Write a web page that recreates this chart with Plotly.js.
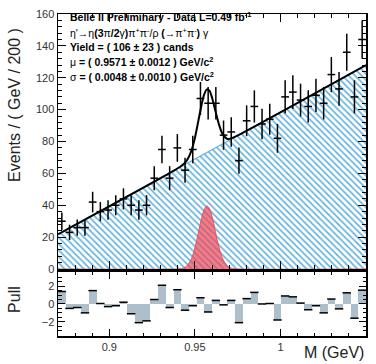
<!DOCTYPE html>
<html><head><meta charset="utf-8">
<script src="https://cdn.plot.ly/plotly-3.0.1.min.js"></script>
<style>html,body{margin:0;padding:0;background:#fff}</style>
</head><body><div id="plot" style="width:376px;height:364px"></div>
<script>
// Bin centres (40 bins, 0.87 - 1.05 GeV)
const binCenters = [0.87225,0.87675,0.88125,0.88575,0.89025,0.89475,0.89925,0.90375,0.90825,0.91275,
  0.91725,0.92175,0.92625,0.93075,0.93525,0.93975,0.94425,0.94875,0.95325,0.95775,
  0.96225,0.96675,0.97125,0.97575,0.98025,0.98475,0.98925,0.99375,0.99825,1.00275,
  1.00725,1.01175,1.01625,1.02075,1.02525,1.02975,1.03425,1.03875,1.04325,1.04775];
// Events per bin
const counts = [30,23,26,26,42,36,37,40,44,40,
  37,40,57,75,57,76,62,75,107,104,
  104,84,86,68,93,102,91,94,82,108,
  111,106,102,109,104,122,113,136,108,144];
const countErr = [5.48,4.80,5.10,5.10,6.48,6.00,6.08,6.32,6.63,6.32,
  6.08,6.32,7.55,8.66,7.55,8.72,7.87,8.66,10.34,10.20,
  10.20,9.17,9.27,8.25,9.64,10.10,9.54,9.70,9.06,10.39,
  10.54,10.30,10.10,10.44,10.20,11.05,10.63,11.66,10.39,12.00];
// Pulls
const pulls = [1.4,-0.5,-0.4,-1.0,1.5,0.05,-0.3,-0.2,0.2,-1.1,
  -2.1,-1.9,0.5,2.1,-0.4,1.6,-0.7,-0.2,0.7,-0.9,
  0.4,-0.1,0.4,-2.1,0.6,1.3,0.0,0.05,-1.8,0.9,
  0.8,0.1,-0.65,-0.2,-1.0,0.55,-0.55,1.25,-1.6,1.55];
// Background component (linear)
const bkgX = [0.87, 1.05];
const bkgY = [21.8, 127.9];
// Signal component
const sigX = [0.87,0.938,0.942,0.945,0.948,0.950,0.952,0.954,0.9555,0.957,0.9585,0.960,0.962,0.964,0.966,0.969,0.972,0.976,1.05];
const sigY = [0,0.02,0.28,1.66,6.5,13.2,22.6,32.2,37.5,39.6,37.9,33.1,23.5,14.1,7.1,1.8,0.32,0.02,0];
// Total fit
const totX = [0.87,0.938,0.942,0.945,0.948,0.950,0.952,0.954,0.9555,0.957,0.9585,0.960,0.962,0.964,0.966,0.969,0.972,0.976,1.05];
const totY = [21.8,61.9,64.6,67.7,74.3,82.2,92.8,103.6,109.7,112.7,111.9,107.6,99.2,91.0,85.1,81.6,82.3,84.3,127.9];

const binW = 0.0045;
const F = 'Liberation Sans, Arial, sans-serif';

const traces = [
  {type:'scatter', x:bkgX, y:bkgY, mode:'lines', fill:'tozeroy',
   line:{color:'#5fb0dc', width:1.2},
   fillcolor:'rgba(255,255,255,0)',
   fillpattern:{shape:'\\', fgcolor:'#5fb0dc', bgcolor:'#ffffff', size:4.5, solidity:0.35},
   xaxis:'x', yaxis:'y', hoverinfo:'skip'},
  {type:'scatter', x:sigX, y:sigY, mode:'lines', fill:'tozeroy', line:{color:'#e8505f', width:1, shape:'spline'},
   fillcolor:'rgba(238,70,85,0.7)', xaxis:'x', yaxis:'y', hoverinfo:'skip'},
  {type:'scatter', x:totX, y:totY, mode:'lines', line:{color:'#000', width:2, shape:'spline', smoothing:0.8},
   xaxis:'x', yaxis:'y', hoverinfo:'skip'},
  {type:'scatter', x:binCenters, y:counts, mode:'markers',
   marker:{size:1, color:'#000'},
   error_y:{type:'data', array:countErr, color:'#000', thickness:1.5, width:0},
   error_x:{type:'constant', value:binW/2, color:'#000', thickness:1.5, width:0},
   xaxis:'x', yaxis:'y', hoverinfo:'skip'},
  {type:'bar', x:binCenters, y:pulls, width:binW, marker:{color:'#adbfca', line:{width:0}},
   xaxis:'x2', yaxis:'y2', hoverinfo:'skip'},
  {type:'scatter', x:binCenters, y:pulls, mode:'markers',
   marker:{symbol:'line-ew-open', size:6, color:'#000', line:{color:'#000', width:1.5}},
   xaxis:'x2', yaxis:'y2', hoverinfo:'skip'}
];

const axCommon = {showline:true, linecolor:'#000', linewidth:1.5, mirror:'ticks', ticks:'inside',
  tickcolor:'#000', tickwidth:1, showgrid:false, zeroline:false,
  tickfont:{family:F, size:11, color:'#333'}};

const layout = {
  width:376, height:364, margin:{l:58, r:10, t:14, b:28},
  paper_bgcolor:'#fff', plot_bgcolor:'#fff', showlegend:false, bargap:0,
  xaxis:Object.assign({}, axCommon, {domain:[0,1], range:[0.87,1.05], anchor:'y', showticklabels:false,
     tick0:0.9, dtick:0.05, ticklen:8, minor:{dtick:0.01, ticklen:4, ticks:'inside', tickcolor:'#000'}}),
  yaxis:Object.assign({}, axCommon, {domain:[0.208,1], range:[0,160], anchor:'x', dtick:20, ticklen:8,
     minor:{dtick:4, ticklen:4, ticks:'inside', tickcolor:'#000'}}),
  xaxis2:Object.assign({}, axCommon, {domain:[0,1], range:[0.87,1.05], anchor:'y2',
     tick0:0.9, dtick:0.05, ticklen:7, minor:{dtick:0.01, ticklen:3.5, ticks:'inside', tickcolor:'#000'}}),
  yaxis2:Object.assign({}, axCommon, {domain:[0,0.199], range:[-3.6,3.6], anchor:'x2', tickvals:[-2,0,2], ticklen:7,
     minor:{dtick:0.5, ticklen:3.5, ticks:'inside', tickcolor:'#000'}}),
  annotations:[
    {xref:'paper', yref:'paper', x:-0.1396, y:0.963, xanchor:'center', yanchor:'top', textangle:-90,
     text:'Events / ( GeV / 200 )', showarrow:false, font:{family:F, size:16, color:'#222'}},
    {xref:'paper', yref:'paper', x:-0.1396, y:0.112, xanchor:'center', yanchor:'middle', textangle:-90,
     text:'Pull', showarrow:false, font:{family:F, size:16, color:'#222'}},
    {xref:'paper', yref:'paper', x:1, y:-0.02, xanchor:'right', yanchor:'top',
     text:'M (GeV)', showarrow:false, font:{family:F, size:16, color:'#222'}},
    {xref:'paper', yref:'paper', x:0.0325, y:0.991, xanchor:'left', yanchor:'middle', showarrow:false,
     text:'<b>Belle II Preliminary - Data L=0.49 fb<sup>-1</sup></b>', font:{family:F, size:10.5, color:'#000'}},
    {xref:'paper', yref:'paper', x:0.0325, y:0.944, xanchor:'left', yanchor:'middle', showarrow:false,
     text:'η\'→η<b>(3</b>π<b>/2</b>γ<b>)</b>π<sup>+</sup>π<sup>-</sup>/ρ <b>(</b>→π<sup>+</sup>π<sup>-</sup><b>)</b> γ',
     font:{family:F, size:10.5, color:'#000'}},
    {xref:'paper', yref:'paper', x:0.0325, y:0.897, xanchor:'left', yanchor:'middle', showarrow:false,
     text:'<b>Yield = ( 106 ± 23 ) cands</b>', font:{family:F, size:10.5, color:'#000'}},
    {xref:'paper', yref:'paper', x:0.0325, y:0.852, xanchor:'left', yanchor:'middle', showarrow:false,
     text:'μ <b>= ( 0.9571 ± 0.0012 ) GeV/c<sup>2</sup></b>', font:{family:F, size:10.5, color:'#000'}},
    {xref:'paper', yref:'paper', x:0.0325, y:0.807, xanchor:'left', yanchor:'middle', showarrow:false,
     text:'σ <b>= ( 0.0048 ± 0.0010 ) GeV/c<sup>2</sup></b>', font:{family:F, size:10.5, color:'#000'}}
  ]
};

Plotly.newPlot('plot', traces, layout, {staticPlot:true, displayModeBar:false});
</script></body></html>
